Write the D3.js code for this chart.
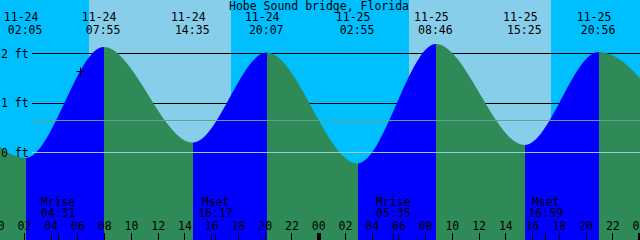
<!DOCTYPE html>
<html>
<head>
<meta charset="utf-8">
<title>Hobe Sound bridge, Florida</title>
<script src="https://cdn.jsdelivr.net/npm/d3@7"></script>
<style>
	body { margin: 0; background: #fff; }
	svg { display: block; }
	text { font-family: "DejaVu Sans Mono", monospace; font-size: 11.5px; fill: #000; }
</style>
</head>
<body>
<div id="chart"></div>
<script>
	// station + tide extremes (heights in ft)
	const title = "Hobe Sound bridge, Florida";
	const tideTimes = ["11-23 19:10", "11-24 02:05", "11-24 07:55", "11-24 14:35", "11-24 20:07",
		"11-25 02:55", "11-25 08:46", "11-25 15:25", "11-25 20:56", "11-26 04:18"];
	const tideFeet = [2.0, -0.11, 2.13, 0.2, 2.02, -0.22, 2.19, 0.15, 2.03, -0.3];

	// sun and moon
	const sunRise = ["11-24 06:49", "11-25 06:45"];
	const sunSet = ["11-24 17:27", "11-25 17:23"];
	const moonNames = ["Mrise", "Mset", "Mrise", "Mset"];
	const moonTimes = ["11-24 04:31", "11-24 16:17", "11-25 05:35", "11-25 16:59"];

	// level lines
	const levelTicks = [2, 1, 0];
	const meanLevel = 0.65;
	const markTime = "11-24 06:11";
	const markFeet = 1.64;

	const width = 640, height = 240;
	const nightColor = "#00bfff", dayColor = "#87ceeb";
	const riseColor = "#0000ff", fallColor = "#2e8b57";

	const parse = d3.utcParse("%m-%d %H:%M");
	const x = d3.scaleUtc()
		.domain([parse("11-24 00:10"), parse("11-26 00:02")])
		.range([0, width]);
	const y = d3.scaleLinear().domain([0, 2]).range([152.5, 53.5]);
	const crisp = v => Math.round(v - 0.5) + 0.5;

	const tides = tideTimes.map((t, i) => ({ date: parse(t), ft: tideFeet[i] }));

	const svg = d3.select("#chart").append("svg")
		.attr("width", width)
		.attr("height", height);

	// night background, then day bands
	svg.append("rect")
		.attr("width", width).attr("height", height)
		.attr("fill", nightColor);
	svg.selectAll(".day")
		.data(sunRise)
		.enter().append("rect")
		.attr("x", (d, i) => x(parse(d)))
		.attr("y", 0)
		.attr("width", (d, i) => x(parse(sunSet[i])) - x(parse(d)))
		.attr("height", height)
		.attr("fill", dayColor)
		.attr("shape-rendering", "crispEdges");

	// black level lines (behind the water)
	svg.selectAll(".level")
		.data(levelTicks.filter(d => d != 0))
		.enter().append("line")
		.attr("x1", 32).attr("x2", width)
		.attr("y1", d => crisp(y(d))).attr("y2", d => crisp(y(d)))
		.attr("stroke", "#000");

	// water: area under curve, coloured by rising / falling
	const area = d3.area()
		.x(d => x(d.date))
		.y0(height)
		.y1(d => y(d.ft))
		.curve(d3.curveMonotoneX);

	svg.append("clipPath").attr("id", "water")
		.append("path").attr("d", area(tides));

	svg.append("g").attr("clip-path", "url(#water)")
		.selectAll("rect")
		.data(tides.slice(0, -1))
		.enter().append("rect")
		.attr("x", d => x(d.date))
		.attr("y", 0)
		.attr("width", (d, i) => x(tides[i + 1].date) - x(d.date))
		.attr("height", height)
		.attr("fill", (d, i) => tides[i + 1].ft > d.ft ? riseColor : fallColor)
		.attr("shape-rendering", "crispEdges");

	// datum and mean level lines on top
	svg.append("line")
		.attr("x1", 32).attr("x2", width)
		.attr("y1", crisp(y(meanLevel))).attr("y2", crisp(y(meanLevel)))
		.attr("stroke", "#62a291");
	svg.append("line")
		.attr("x1", 32).attr("x2", width)
		.attr("y1", crisp(y(0))).attr("y2", crisp(y(0)))
		.attr("stroke", "#9cc8dc");

	// level labels
	svg.selectAll(".ylab")
		.data(levelTicks)
		.enter().append("text")
		.attr("x", 1)
		.attr("y", d => y(d) + 4)
		.text(d => d + " ft");

	// mark
	const mx = crisp(x(parse(markTime))), my = crisp(y(markFeet));
	svg.append("path")
		.attr("d", `M${mx - 4},${my}H${mx + 4}M${mx},${my - 4}V${my + 4}`)
		.attr("stroke", "#000")
		.attr("fill", "none");

	// title + tide labels at top
	svg.append("text")
		.attr("x", width / 2 - 1).attr("y", 10)
		.attr("text-anchor", "middle")
		.text(title);

	const shown = tides.filter(d => d.date >= x.domain()[0] && d.date <= x.domain()[1]);
	const fmtDate = d3.utcFormat("%m-%d"), fmtTime = d3.utcFormat("%H:%M");
	const tideLab = svg.selectAll(".tlab").data(shown).enter().append("g");
	tideLab.append("text")
		.attr("x", d => x(d.date) - 4.5).attr("y", 21)
		.attr("text-anchor", "middle")
		.text(d => fmtDate(d.date));
	tideLab.append("text")
		.attr("x", d => x(d.date) - 0.5).attr("y", 34)
		.attr("text-anchor", "middle")
		.text(d => fmtTime(d.date));

	// moon labels
	const moon = svg.selectAll(".moon").data(moonTimes).enter().append("g");
	moon.append("text")
		.attr("x", d => x(parse(d))).attr("y", 206)
		.attr("text-anchor", "middle")
		.text((d, i) => moonNames[i]);
	moon.append("text")
		.attr("x", d => x(parse(d))).attr("y", 217)
		.attr("text-anchor", "middle")
		.text(d => fmtTime(parse(d)));
	moon.append("line")
		.attr("x1", d => crisp(x(parse(d)))).attr("x2", d => crisp(x(parse(d))))
		.attr("y1", 233).attr("y2", height)
		.attr("stroke", "#000");

	// hour ticks every 2 hours
	const hours = d3.utcHour.every(2).range(parse("11-24 00:00"), parse("11-26 00:01"));
	svg.selectAll(".hlab")
		.data(hours)
		.enter().append("text")
		.attr("x", d => x(d)).attr("y", 230)
		.attr("text-anchor", "middle")
		.text(d => d3.utcFormat("%H")(d));
	svg.selectAll(".htick")
		.data(hours)
		.enter().append("rect")
		.attr("x", d => d.getUTCHours() == 0 ? Math.round(x(d)) - 2 : Math.round(x(d) - 0.5))
		.attr("y", 233)
		.attr("width", d => d.getUTCHours() == 0 ? 4 : 1)
		.attr("height", height - 233)
		.attr("fill", "#000");
</script>
</body>
</html>
